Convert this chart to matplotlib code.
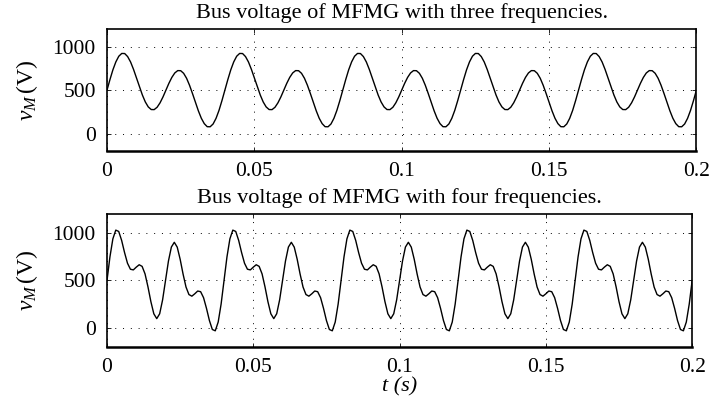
import matplotlib
matplotlib.use('Agg')
import matplotlib.pyplot as plt
import numpy as np

sample_step_s = 0.001

v_three = [
  500, 621, 733, 824, 889, 921, 920, 885, 823, 738, 640, 539, 444, 364, 307, 277, 276, 303, 354, 422,
  500, 578, 646, 697, 724, 723, 693, 636, 556, 461, 360, 262, 177, 115, 80, 79, 111, 176, 267, 379,
  500, 621, 733, 824, 889, 921, 920, 885, 823, 738, 640, 539, 444, 364, 307, 277, 276, 303, 354, 422,
  500, 578, 646, 697, 724, 723, 693, 636, 556, 461, 360, 262, 177, 115, 80, 79, 111, 176, 267, 379,
  500, 621, 733, 824, 889, 921, 920, 885, 823, 738, 640, 539, 444, 364, 307, 277, 276, 303, 354, 422,
  500, 578, 646, 697, 724, 723, 693, 636, 556, 461, 360, 262, 177, 115, 80, 79, 111, 176, 267, 379,
  500, 621, 733, 824, 889, 921, 920, 885, 823, 738, 640, 539, 444, 364, 307, 277, 276, 303, 354, 422,
  500, 578, 646, 697, 724, 723, 693, 636, 556, 461, 360, 262, 177, 115, 80, 79, 111, 176, 267, 379,
  500, 621, 733, 824, 889, 921, 920, 885, 823, 738, 640, 539, 444, 364, 307, 277, 276, 303, 354, 422,
  500, 578, 646, 697, 724, 723, 693, 636, 556, 461, 360, 262, 177, 115, 80, 79, 111, 176, 267, 379,
  500]

v_four = [
  500, 747, 937, 1029, 1015, 921, 793, 681, 618, 611, 640, 665, 648, 569, 433, 277, 150, 99, 150, 296,
  500, 704, 851, 901, 850, 723, 567, 431, 352, 335, 360, 389, 382, 319, 207, 79, -15, -29, 63, 252,
  500, 747, 937, 1029, 1015, 921, 793, 681, 618, 611, 640, 665, 648, 569, 433, 277, 150, 99, 150, 296,
  500, 704, 851, 901, 850, 723, 567, 431, 352, 335, 360, 389, 382, 319, 207, 79, -15, -29, 63, 252,
  500, 747, 937, 1029, 1015, 921, 793, 681, 618, 611, 640, 665, 648, 569, 433, 277, 150, 99, 150, 296,
  500, 704, 851, 901, 850, 723, 567, 431, 352, 335, 360, 389, 382, 319, 207, 79, -15, -29, 63, 252,
  500, 747, 937, 1029, 1015, 921, 793, 681, 618, 611, 640, 665, 648, 569, 433, 277, 150, 99, 150, 296,
  500, 704, 851, 901, 850, 723, 567, 431, 352, 335, 360, 389, 382, 319, 207, 79, -15, -29, 63, 252,
  500, 747, 937, 1029, 1015, 921, 793, 681, 618, 611, 640, 665, 648, 569, 433, 277, 150, 99, 150, 296,
  500, 704, 851, 901, 850, 723, 567, 431, 352, 335, 360, 389, 382, 319, 207, 79, -15, -29, 63, 252,
  500]

titles = ['Bus voltage of MFMG with three frequencies.',
          'Bus voltage of MFMG with four frequencies.']
x_ticks = [0, 0.05, 0.1, 0.15, 0.2]
x_tick_labels = ['0', '0.05', '0.1', '0.15', '0.2']
y_ticks = [0, 500, 1000]

plt.rcParams['font.family'] = ['Liberation Serif', 'DejaVu Serif']
plt.rcParams['mathtext.fontset'] = 'custom'
plt.rcParams['mathtext.rm'] = 'Liberation Serif'
plt.rcParams['mathtext.it'] = 'Liberation Serif:italic'

fig = plt.figure(figsize=(7.11, 4.05), dpi=100)
ax_top = fig.add_axes([0.1505, 0.627, 0.829, 0.301])
ax_bot = fig.add_axes([0.1505, 0.143, 0.823, 0.329])

for ax, v, title in [(ax_top, v_three, titles[0]), (ax_bot, v_four, titles[1])]:
  t = np.arange(len(v)) * sample_step_s
  ax.plot(t, v, color='black', linewidth=1.0)
  ax.set_xlim(0, 0.2)
  ax.set_ylim(-200, 1200)
  ax.set_xticks(x_ticks)
  ax.set_xticklabels(x_tick_labels)
  ax.set_yticks(y_ticks)
  ax.tick_params(direction='in', length=3, width=0.6, labelsize=15.5,
                 top=True, right=True, pad=8)
  ax.grid(True, color='black', linestyle=(0, (1, 7)), linewidth=0.7)
  for s in ax.spines.values():
    s.set_linewidth(1.2)
  ax.spines['bottom'].set_linewidth(1.8)
  ax.set_title(title, fontsize=16, pad=8)
  ax.set_ylabel(r'$v_M\,$(V)', fontsize=17, labelpad=9)

ax_bot.set_xlabel('t (s)', fontsize=16, style='italic', labelpad=0)

plt.savefig('out.png', dpi=100)
plt.close()
